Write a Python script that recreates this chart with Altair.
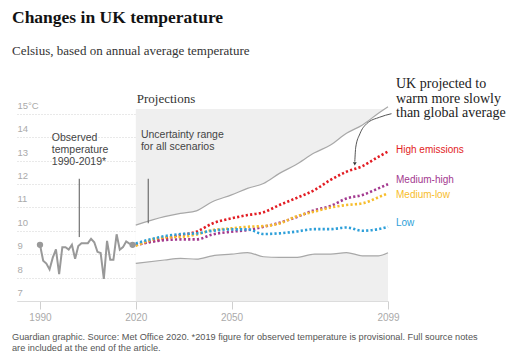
import altair as alt
import pandas as pd

# ---------------- data ----------------
obs_years = list(range(1990, 2020))
obs_temp = [9.40, 8.72, 8.60, 8.35, 8.85, 9.20, 8.15, 9.30, 9.30, 9.20,
            9.40, 8.80, 9.35, 9.47, 9.47, 9.47, 9.66, 9.51, 9.10, 9.05,
            7.94, 9.57, 8.76, 8.76, 9.85, 9.19, 9.30, 9.54, 9.45, 9.40]

proj_years = [2020, 2029, 2034, 2039, 2044, 2050, 2055, 2060, 2065, 2070,
              2076, 2081, 2086, 2091, 2096, 2099]
band_upper = [10.24, 10.60, 10.74, 10.85, 11.24, 11.53, 11.81, 12.02, 12.45, 12.81,
              13.33, 13.66, 14.16, 14.52, 15.02, 15.30]
band_lower = [8.61, 8.75, 8.82, 8.79, 8.93, 9.00, 9.07, 8.89, 8.86, 8.86,
              9.00, 9.00, 9.07, 8.93, 8.93, 9.06]
high = [9.39, 9.67, 9.82, 9.96, 10.31, 10.53, 10.67, 10.79, 11.10, 11.38,
        11.74, 12.17, 12.52, 12.76, 13.16, 13.38]
medium_high = [9.39, 9.60, 9.63, 9.63, 9.84, 9.96, 10.03, 10.17, 10.34, 10.57,
               10.88, 11.06, 11.38, 11.53, 11.81, 11.99]
medium_low = [9.36, 9.72, 9.74, 9.84, 10.03, 10.10, 10.17, 10.20, 10.31, 10.60,
              10.82, 10.99, 11.10, 11.17, 11.43, 11.60]
low = [9.46, 9.77, 9.86, 9.89, 10.00, 10.06, 10.06, 9.86, 9.89, 9.96,
       10.07, 10.07, 10.14, 10.00, 10.07, 10.17]

scenario_names = ["High emissions", "Medium-high", "Medium-low", "Low"]
scenario_colors = ["#e21c23", "#a3398f", "#f7bd2c", "#2d9fd9"]
scenario_label_values = [13.43, 12.18, 11.54, 10.32]

x_ticks = [1990, 2020, 2050, 2099]
y_ticks = [7, 8, 9, 10, 11, 12, 13, 14, 15]
x_domain = [1982.8, 2099]
y_domain = [7, 15.2]
proj_start, proj_end = 2020, 2099

title = "Changes in UK temperature"
subtitle = "Celsius, based on annual average temperature"
footer1 = ("Guardian graphic. Source: Met Office 2020. *2019 figure for observed "
           "temperature is provisional. Full source notes")
footer2 = "are included at the end of the article."

note_texts = ["Observed\ntemperature\n1990-2019*", "Uncertainty range\nfor all scenarios"]
note_years = [1993.7, 2021.6]
note_values = [13.82, 13.97]
connector_years = [2002.3, 2023.9]
connector_top = [12.22, 12.22]
connector_bottom = [9.73, 10.32]

callout_text = "UK projected to\nwarm more slowly\nthan global average"
callout_value = 16.08
arrow_years = [2100.1, 2096.4, 2092.3, 2090.2, 2088.9, 2088.6]
arrow_values = [15.00, 14.85, 14.57, 14.14, 13.57, 12.95]
arrow_head = (2088.6, 12.86)

projections_label_value = 15.63

SERIF = "Liberation Serif"
SANS = "Liberation Sans"

# ---------------- tables ----------------
obs_df = pd.DataFrame({"year": obs_years, "temp": obs_temp})
ends_df = obs_df.iloc[[0, -1]]
band_df = pd.DataFrame({"year": proj_years, "upper": band_upper, "lower": band_lower})
scen_rows = []
for name, vals in zip(scenario_names, [high, medium_high, medium_low, low]):
    for y, v in zip(proj_years, vals):
        scen_rows.append({"scenario": name, "year": y, "temp": v})
scen_df = pd.DataFrame(scen_rows)
lab_df = pd.DataFrame({"scenario": scenario_names, "year": [proj_end] * 4,
                       "temp": scenario_label_values})
rect_df = pd.DataFrame({"x": [proj_start], "x2": [proj_end],
                        "y": [y_domain[0]], "y2": [y_domain[1]]})
note_df = pd.DataFrame({"t": note_texts, "year": note_years, "temp": note_values})
conn_df = pd.DataFrame({"year": connector_years, "top": connector_top,
                        "bottom": connector_bottom})
arrow_df = pd.DataFrame({"year": arrow_years, "temp": arrow_values,
                         "i": list(range(len(arrow_years)))})
head_df = pd.DataFrame({"year": [arrow_head[0]], "temp": [arrow_head[1]]})
callout_df = pd.DataFrame({"t": [callout_text], "year": [proj_end], "temp": [callout_value]})
proj_lab_df = pd.DataFrame({"t": ["Projections"], "year": [proj_start],
                            "temp": [projections_label_value]})

xs = alt.Scale(domain=x_domain, nice=False, zero=False)
ys = alt.Scale(domain=y_domain, nice=False, zero=False)

x_axis = alt.Axis(values=x_ticks, format="d", grid=False, domainColor="#dcdcdc",
                  tickColor="#d0d0d0", tickSize=8, labelColor="#aaaaaa",
                  labelFont=SANS, labelFontSize=10, labelPadding=3, title=None,
                  labelFlush=False)
y_axis = alt.Axis(values=y_ticks, grid=True, gridColor="#d2d2d2", gridDash=[1, 2],
                  domain=False, ticks=False, tickSize=0, labelAlign="left",
                  labelPadding=0, labelBaseline="alphabetic", labelOffset=-5.5,
                  labelColor="#aaaaaa", labelFont=SANS, labelFontSize=9.5,
                  labelExpr="datum.value == 15 ? '15°C' : datum.label",
                  title=None)


def X(field="year"):
    return alt.X(f"{field}:Q", scale=xs, axis=x_axis)


def Y(field="temp"):
    return alt.Y(f"{field}:Q", scale=ys, axis=y_axis)


hatch = alt.Chart(rect_df).mark_rect(color="#efefef").encode(
    x=X("x"), x2="x2:Q", y=Y("y"), y2="y2:Q")

white_band = alt.Chart(band_df).mark_area(color="white", interpolate="monotone").encode(
    x=X(), y=Y("upper"), y2="lower:Q")

upper_line = alt.Chart(band_df).mark_line(color="#a8a8a8", strokeWidth=1.2,
                                          interpolate="monotone").encode(x=X(), y=Y("upper"))
lower_line = alt.Chart(band_df).mark_line(color="#a8a8a8", strokeWidth=1.2,
                                          interpolate="monotone").encode(x=X(), y=Y("lower"))

color_scale = alt.Scale(domain=scenario_names, range=scenario_colors)
scen_lines = alt.Chart(scen_df).mark_line(strokeWidth=2.6, strokeDash=[2.2, 2.2],
                                          interpolate="monotone").encode(
    x=X(), y=Y(), color=alt.Color("scenario:N", scale=color_scale, legend=None),
    detail="scenario:N")

obs_line = alt.Chart(obs_df).mark_line(color="#999999", strokeWidth=2).encode(x=X(), y=Y())
obs_dots = alt.Chart(ends_df).mark_circle(color="#999999", size=40, opacity=1).encode(
    x=X(), y=Y())

scen_labels = alt.Chart(lab_df).mark_text(align="left", baseline="middle", dx=8,
                                          font=SANS, fontSize=10).encode(
    x=X(), y=Y(), text="scenario:N",
    color=alt.Color("scenario:N", scale=color_scale, legend=None))

notes = alt.Chart(note_df).mark_text(align="left", baseline="alphabetic", lineBreak="\n",
                                     lineHeight=12, font=SANS, fontSize=10.5,
                                     color="#444444").encode(x=X(), y=Y(), text="t:N")
connectors = alt.Chart(conn_df).mark_rule(color="#555555", strokeWidth=1).encode(
    x=X(), y=Y("top"), y2="bottom:Q")

arrow = alt.Chart(arrow_df).mark_line(color="#555555", strokeWidth=1,
                                      interpolate="monotone").encode(
    x=X(), y=Y(), order="i:O")
head = alt.Chart(head_df).mark_point(shape="triangle-down", filled=True, size=14,
                                     color="#333333", opacity=1).encode(x=X(), y=Y())

callout = alt.Chart(callout_df).mark_text(align="left", baseline="alphabetic", dx=8,
                                          lineBreak="\n", lineHeight=14.2, font=SERIF,
                                          fontSize=14, color="#222222").encode(
    x=X(), y=Y(), text="t:N")
proj_label = alt.Chart(proj_lab_df).mark_text(align="left", baseline="middle", dx=1,
                                              font=SERIF, fontSize=13,
                                              color="#333333").encode(
    x=X(), y=Y(), text="t:N")


def fixed_text(txt, xv, yv, size, font, color, weight="normal"):
    return alt.Chart(pd.DataFrame({"t": [txt]})).mark_text(
        align="left", baseline="alphabetic", font=font, fontSize=size,
        fontWeight=weight, color=color).encode(
        text="t:N", x=alt.value(xv), y=alt.value(yv))


title_t = fixed_text(title, -5, -86, 17.5, SERIF, "#121212", "bold")
subtitle_t = fixed_text(subtitle, -5, -54, 13, SERIF, "#333333")
foot1 = fixed_text(footer1, -5, 231, 9.2, SANS, "#555555")
foot2 = fixed_text(footer2, -5, 241.5, 9.2, SANS, "#555555")

chart = alt.layer(
    hatch, white_band, upper_line, lower_line, scen_lines, obs_line, obs_dots,
    scen_labels, notes, connectors, arrow, head, callout, proj_label,
    title_t, subtitle_t, foot1, foot2,
).properties(
    width=371, height=192,
    autosize=alt.AutoSizeParams(type="none"),
    padding={"left": 9, "top": 101, "right": 125, "bottom": 54},
    background="white",
).configure_view(stroke=None)

chart.save("out.html", embed_options={"renderer": "svg", "actions": False})
